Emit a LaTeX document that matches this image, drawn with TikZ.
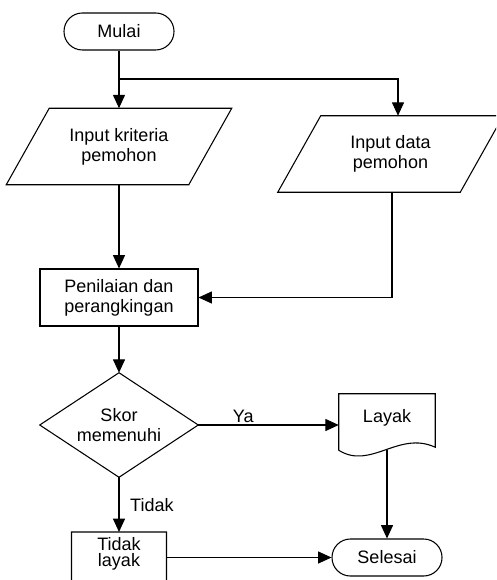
\documentclass[tikz,border=0pt]{standalone}
\usepackage{fontspec}
\setmainfont{Liberation Sans}
\usetikzlibrary{arrows.meta,calc}
\begin{document}
\begin{tikzpicture}[x=0.75pt,y=-0.75pt,
  every node/.style={font=\fontsize{13.5pt}{15pt}\selectfont, align=center, inner sep=0pt},
  terminal/.style={draw, line width=0.8pt, rounded corners=13.8pt,
                   minimum width=82.5pt, minimum height=27.75pt},
  iobox/.style={minimum width=168.75pt, minimum height=57pt},
  shapeline/.style={line width=0.8pt, line join=miter},
  flow/.style={line width=0.8pt, -{Triangle[length=10pt,width=9pt]}},
]
\useasboundingbox (0,0) rectangle (496,580);
\clip (0,0) rectangle (496,580);

% start / end
\node[terminal] (mulai) at (119,31.5) {Mulai};
\node[terminal] (selesai) at (387,557.5) {Selesai};

% input parallelograms (slant of 43px)
\node[iobox] (p1) at (119,146.5) {Input kriteria\\pemohon};
\draw[shapeline] (p1.south west) -- ($(p1.north west)+(43,0)$) -- (p1.north east)
  -- ($(p1.south east)+(-43,0)$) -- cycle;

\node[iobox] (p2) at (390.5,154) {Input data\\pemohon};
\draw[shapeline] (p2.south west) -- ($(p2.north west)+(43,0)$) -- (p2.north east)
  -- ($(p2.south east)+(-43,0)$) -- cycle;

% process
\node[draw, line width=0.8pt, minimum width=118.5pt, minimum height=42.75pt]
  (nilai) at (119,297.5) {Penilaian dan\\perangkingan};

% decision
\node[minimum width=118.5pt, minimum height=78pt] (skor) at (119,425) {Skor\\memenuhi};
\draw[shapeline] (skor.north) -- (skor.east) -- (skor.south) -- (skor.west) -- cycle;

% documents with wavy bottom
\node[minimum width=72pt, minimum height=36pt] (layak) at (387,418) {Layak};
\draw[shapeline] ($(layak.south west)+(0,8)$) -- (layak.north west) -- (layak.north east)
  -- ($(layak.south east)+(0,5)$)
  .. controls ($(layak.south west)+(60,-12)$) and ($(layak.south west)+(32,28)$)
  .. ($(layak.south west)+(0,8)$);

\node[font=\fontsize{13.5pt}{12pt}\selectfont] (tidak) at (119,554) {Tidak\\layak};
\coordinate (tnw) at ($(tidak.center)+(-47.5,-22)$);
\coordinate (tne) at ($(tidak.center)+(47.5,-22)$);
\coordinate (tse) at ($(tidak.center)+(47.5,31)$);
\coordinate (tsw) at ($(tidak.center)+(-47.5,34)$);
\draw[shapeline] (tsw) -- (tnw) -- (tne) -- (tse)
  .. controls ($(tsw)+(59,-20)$) and ($(tsw)+(32,20)$) .. (tsw);

% connectors
\coordinate (split) at (119,79);
\draw[flow] (mulai.south) -- (p1.north);
\draw[flow] (split) -| ($(p2.north)+(7.5,0)$);
\draw[flow] (p1.south) -- (nilai.north);
\draw[flow] ($(p2.south)+(1.5,0)$) |- (nilai.east);
\draw[flow] (nilai.south) -- (skor.north);
\draw[flow] (skor.east) -- (skor.east -| layak.west)
  node[pos=0.32, anchor=south, yshift=1.5pt] (ya) {Ya};
\draw[flow] (skor.south) -- (tnw -| skor.south)
  node[midway, anchor=west, xshift=8pt] (tdk) {Tidak};
\draw[flow] ($(layak.south)+(0,8)$) -- (selesai.north);
\draw[flow] (selesai.west -| tne) -- (selesai.west);
\end{tikzpicture}
\end{document}
